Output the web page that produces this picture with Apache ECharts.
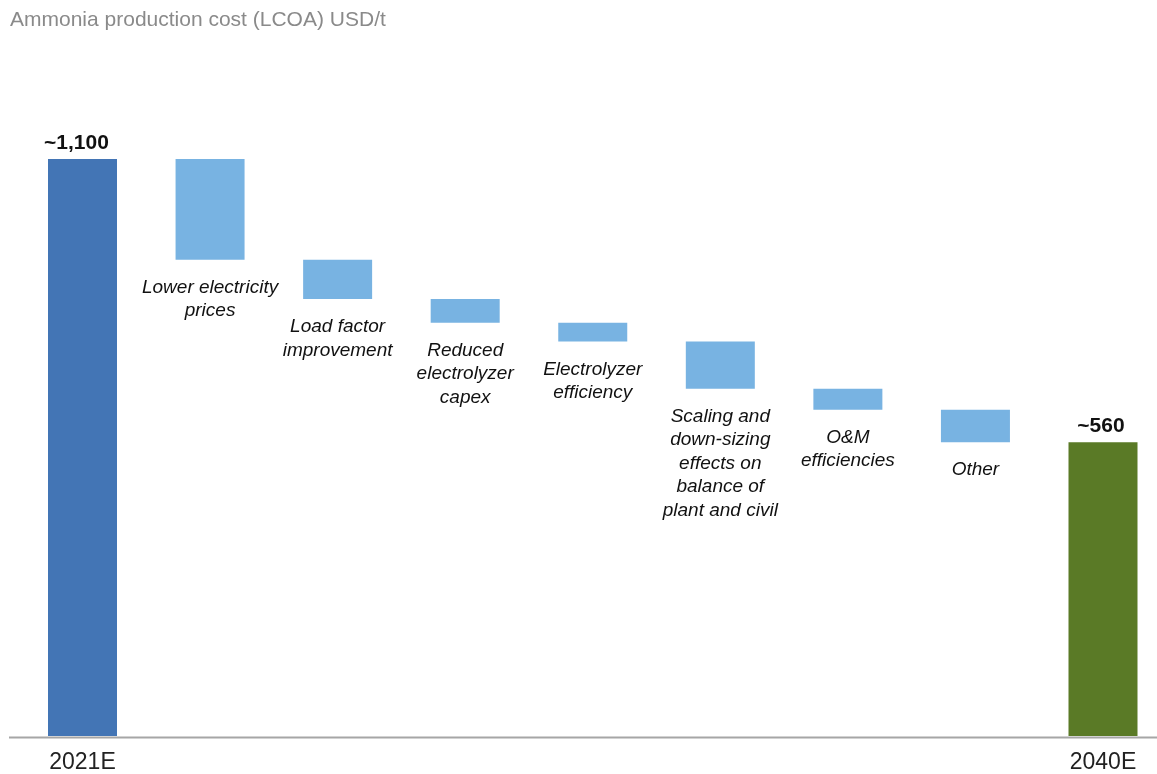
<!DOCTYPE html>
<html>
<head>
<meta charset="utf-8">
<script src="https://cdn.jsdelivr.net/npm/echarts@6/dist/echarts.min.js"></script>
<style>
  html, body { margin: 0; padding: 0; background: #fff; }
  #chart { width: 1157px; height: 774px; }
</style>
</head>
<body>
<div id="chart"></div>
<script>
// Ammonia production cost bridge, 2021E to 2040E (USD/t)
const categories = ['2021E', 'step1', 'step2', 'step3', 'step4', 'step5', 'step6', 'step7', '2040E'];
const stepLabels = [
  'Lower electricity\nprices',
  'Load factor\nimprovement',
  'Reduced\nelectrolyzer\ncapex',
  'Electrolyzer\nefficiency',
  'Scaling and\ndown-sizing\neffects on\nbalance of\nplant and civil',
  'O&M\nefficiencies',
  'Other'
];
const startValue = 1100;
const stepDrops = [192, 75, 45, 36, 90, 40, 62];
const endValue = 560;
const totalLabels = ['~1,100', '~560'];

const totalLabelStyle = {
  show: true, position: 'top', fontStyle: 'normal', fontWeight: 'bold',
  fontSize: 21, color: '#111', distance: 4
};

// Build invisible bases and visible deltas for the waterfall
const baseData = [0];
const deltaData = [{
  value: startValue, itemStyle: { color: '#4375B5' },
  label: Object.assign({}, totalLabelStyle, { formatter: totalLabels[0], offset: [-6, 0] })
}];
let level = startValue;
stepDrops.forEach((d, i) => {
  level -= d;
  baseData.push(level);
  deltaData.push({ value: d, itemStyle: { color: '#78B3E2' }, label: { show: true, position: 'bottom', formatter: stepLabels[i] } });
});
baseData.push(0);
deltaData.push({
  value: endValue, itemStyle: { color: '#5A7A26' },
  label: Object.assign({}, totalLabelStyle, { formatter: totalLabels[1], offset: [-2, 0] })
});

const chart = echarts.init(document.getElementById('chart'));
chart.setOption({
  animation: false,
  backgroundColor: '#fff',
  title: {
    text: 'Ammonia production cost (LCOA) USD/t',
    left: 5, top: 5,
    textStyle: { fontFamily: 'Liberation Sans', fontSize: 21, fontWeight: 'normal', color: '#8a8a8a' }
  },
  grid: { left: 82.5, right: 54, top: 159, bottom: 37 },
  xAxis: {
    type: 'category',
    data: categories,
    boundaryGap: false,
    axisLine: { show: false },
    axisTick: { show: false },
    splitLine: { show: false },
    axisLabel: {
      margin: 15,
      fontFamily: 'Liberation Sans',
      fontSize: 23,
      color: '#222',
      formatter: (v) => (v === '2021E' || v === '2040E') ? v : ''
    }
  },
  yAxis: { type: 'value', min: 0, max: 1100, show: false, splitLine: { show: false } },
  series: [
    {
      type: 'bar', stack: 'w', data: baseData, barWidth: 69,
      itemStyle: { color: 'transparent' }, silent: true
    },
    {
      type: 'bar', stack: 'w', data: deltaData, barWidth: 69,
      label: {
        fontFamily: 'Liberation Sans', fontStyle: 'italic', fontSize: 19,
        lineHeight: 23.5, color: '#111', distance: 16, align: 'center'
      }
    }
  ],
  graphic: [{
    type: 'line', z: 10,
    shape: { x1: 9, y1: 737.5, x2: 1157, y2: 737.5 },
    style: { stroke: '#a6a6a6', lineWidth: 2 }
  }]
});
</script>
</body>
</html>
